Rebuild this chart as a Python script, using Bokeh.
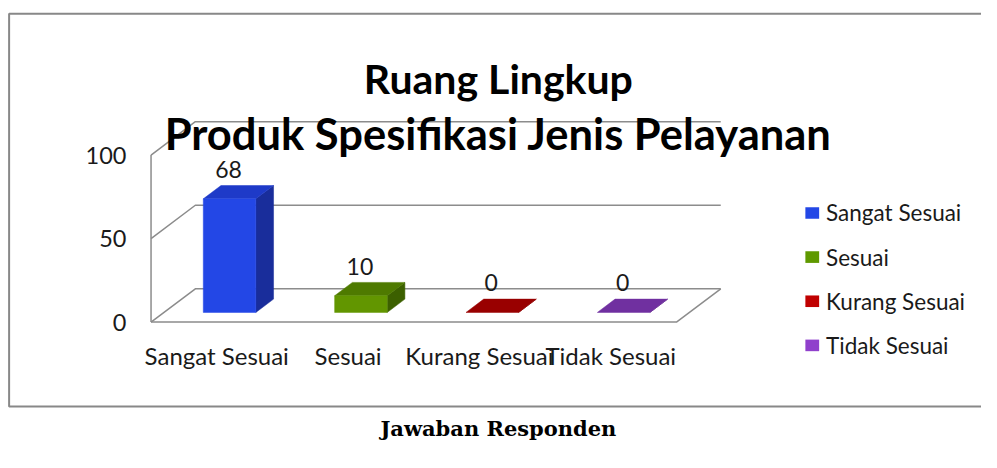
from bokeh.plotting import figure
from bokeh.models import Range1d
from bokeh.core.properties import value
from bokeh.embed import file_html
from bokeh.resources import INLINE

# ---------------- data ----------------
title_lines = ["Ruang Lingkup", "Produk Spesifikasi Jenis Pelayanan"]
categories = ["Sangat Sesuai", "Sesuai", "Kurang Sesuai", "Tidak Sesuai"]
values = [68, 10, 0, 0]
y_ticks = [0, 50, 100]
y_tick_labels = ["0", "50", "100"]
caption = "Jawaban Responden"

# ---------------- styles ----------------
front_colors = ["#2347E6", "#629600", "#C00000", "#8E3CC8"]
top_colors = ["#1E3AC8", "#4E7A00", "#990000", "#7030A0"]
side_colors = ["#192D9B", "#3C6000", "#800000", "#5A2680"]
legend_colors = ["#2347E6", "#5F9900", "#C00000", "#9040CC"]
grid_color = "#8C8C8C"
text_color = "#1A1A1A"
FONT = "Lato"

# ---------------- layout ----------------
W, H = 981, 452
REF_W, REF_H = 997, 468
KX, KY = W / REF_W, H / REF_H        # reference px -> canvas px
X0, Y0 = 153 * KX, 333 * KY          # canvas px of the front-left floor corner
SX, SY = 133.5 * KX, 1.73 * KY       # px per category, px per value unit
DX, DY = 45 / 133.5, 34.5 / 1.73     # full depth offset in data units
BAR_HW = 0.2
D0, D1 = 0.29, 0.69


def to_data(ix, iy):
    """reference-picture pixel -> data coordinates"""
    return ((ix * KX - X0) / SX, (Y0 - iy * KY) / SY)


p = figure(width=W, height=H,
           x_range=Range1d(-X0 / SX, (W - X0) / SX),
           y_range=Range1d(-(H - Y0) / SY, Y0 / SY),
           output_backend="svg", toolbar_location=None,
           x_axis_location=None, y_axis_location=None,
           min_border=0, min_border_left=0, min_border_right=0,
           min_border_top=0, min_border_bottom=0,
           outline_line_color=None, background_fill_color="white",
           border_fill_color="white")
p.grid.visible = False

# chart frame
fl, ft = to_data(8.75, 13.75)
fr, fb = to_data(1010, 420.25)
p.line([fr, fl, fl, fr], [ft, ft, fb, fb], line_color="#888888", line_width=2)

n = len(categories)
ymax = y_ticks[-1]

# walls / gridlines
gx, gy = [], []
for t in y_ticks:
    gx.append([0, DX, n + DX])
    gy.append([t, t + DY, t + DY])
gx.append([0, 0])
gy.append([y_ticks[0], ymax])
gx.append([0, n, n + DX])
gy.append([0, 0, DY])
p.multi_line(gx, gy, line_color=grid_color, line_width=1.5)

# 3D bars
front_x, front_y, top_x, top_y, side_x, side_y = [], [], [], [], [], []
for i, v in enumerate(values):
    x0 = i + 0.5 - BAR_HW
    x1 = i + 0.5 + BAR_HW
    front_x.append([x0 + D0 * DX, x1 + D0 * DX, x1 + D0 * DX, x0 + D0 * DX])
    front_y.append([D0 * DY, D0 * DY, v + D0 * DY, v + D0 * DY])
    top_x.append([x0 + D0 * DX, x1 + D0 * DX, x1 + D1 * DX, x0 + D1 * DX])
    top_y.append([v + D0 * DY, v + D0 * DY, v + D1 * DY, v + D1 * DY])
    side_x.append([x1 + D0 * DX, x1 + D1 * DX, x1 + D1 * DX, x1 + D0 * DX])
    side_y.append([D0 * DY, D1 * DY, v + D1 * DY, v + D0 * DY])

p.patches(side_x, side_y, fill_color=side_colors, line_color=side_colors, line_width=0.5)
p.patches(top_x, top_y, fill_color=top_colors, line_color=top_colors, line_width=0.5)
nz = [i for i, v in enumerate(values) if v > 0]
p.patches([front_x[i] for i in nz], [front_y[i] for i in nz],
          fill_color=[front_colors[i] for i in nz],
          line_color=[front_colors[i] for i in nz], line_width=0.5)

# value labels
p.text(x=[i + 0.59 for i in range(n)], y=[v + 23.5 for v in values],
       text=[str(v) for v in values], text_align="center", text_baseline="middle",
       text_font=value(FONT), text_font_size="23px", text_color=text_color)

# category labels
_, cat_y = to_data(0, 368)
p.text(x=[i + 0.5 for i in range(n)], y=[cat_y] * n, text=categories,
       text_align="center", text_baseline="middle",
       text_font=value(FONT), text_font_size="24px", text_color=text_color)

# y tick labels
tick_x, _ = to_data(128, 0)
p.text(x=[tick_x] * len(y_ticks), y=y_ticks, text=y_tick_labels,
       text_align="right", text_baseline="middle",
       text_font=value(FONT), text_font_size="23.5px", text_color=text_color)

# title
tx, _ = to_data(506, 0)
p.text(x=[tx], y=[to_data(0, 81)[1]], text=[title_lines[0]], text_align="center",
       text_baseline="alphabetic", text_font=value(FONT), text_font_style="bold",
       text_font_size="41px", text_color="#000000")
p.text(x=[tx], y=[to_data(0, 137)[1]], text=[title_lines[1]], text_align="center",
       text_baseline="alphabetic", text_font=value(FONT), text_font_style="bold",
       text_font_size="43.5px", text_color="#000000")

# legend
lg_x, _ = to_data(825, 0)
lg_tx, _ = to_data(839, 0)
lg_ys = [to_data(0, 220 + 45.7 * k)[1] for k in range(n)]
p.rect(x=[lg_x] * n, y=lg_ys, width=14 * KX / SX, height=12 * KY / SY,
       fill_color=legend_colors, line_color=None)
p.text(x=[lg_tx] * n, y=lg_ys, text=categories, text_align="left",
       text_baseline="middle", text_font=value(FONT), text_font_size="22.5px",
       text_color=text_color)

# caption below frame (kept fully inside the canvas)
cx, cy = to_data(506, 443)
p.text(x=[cx], y=[cy], text=[caption], text_align="center",
       text_baseline="middle", text_font=value("DejaVu Serif"),
       text_font_style="bold", text_font_size="21px", text_color="#000000")

open("out.html", "w").write(file_html(p, INLINE))
